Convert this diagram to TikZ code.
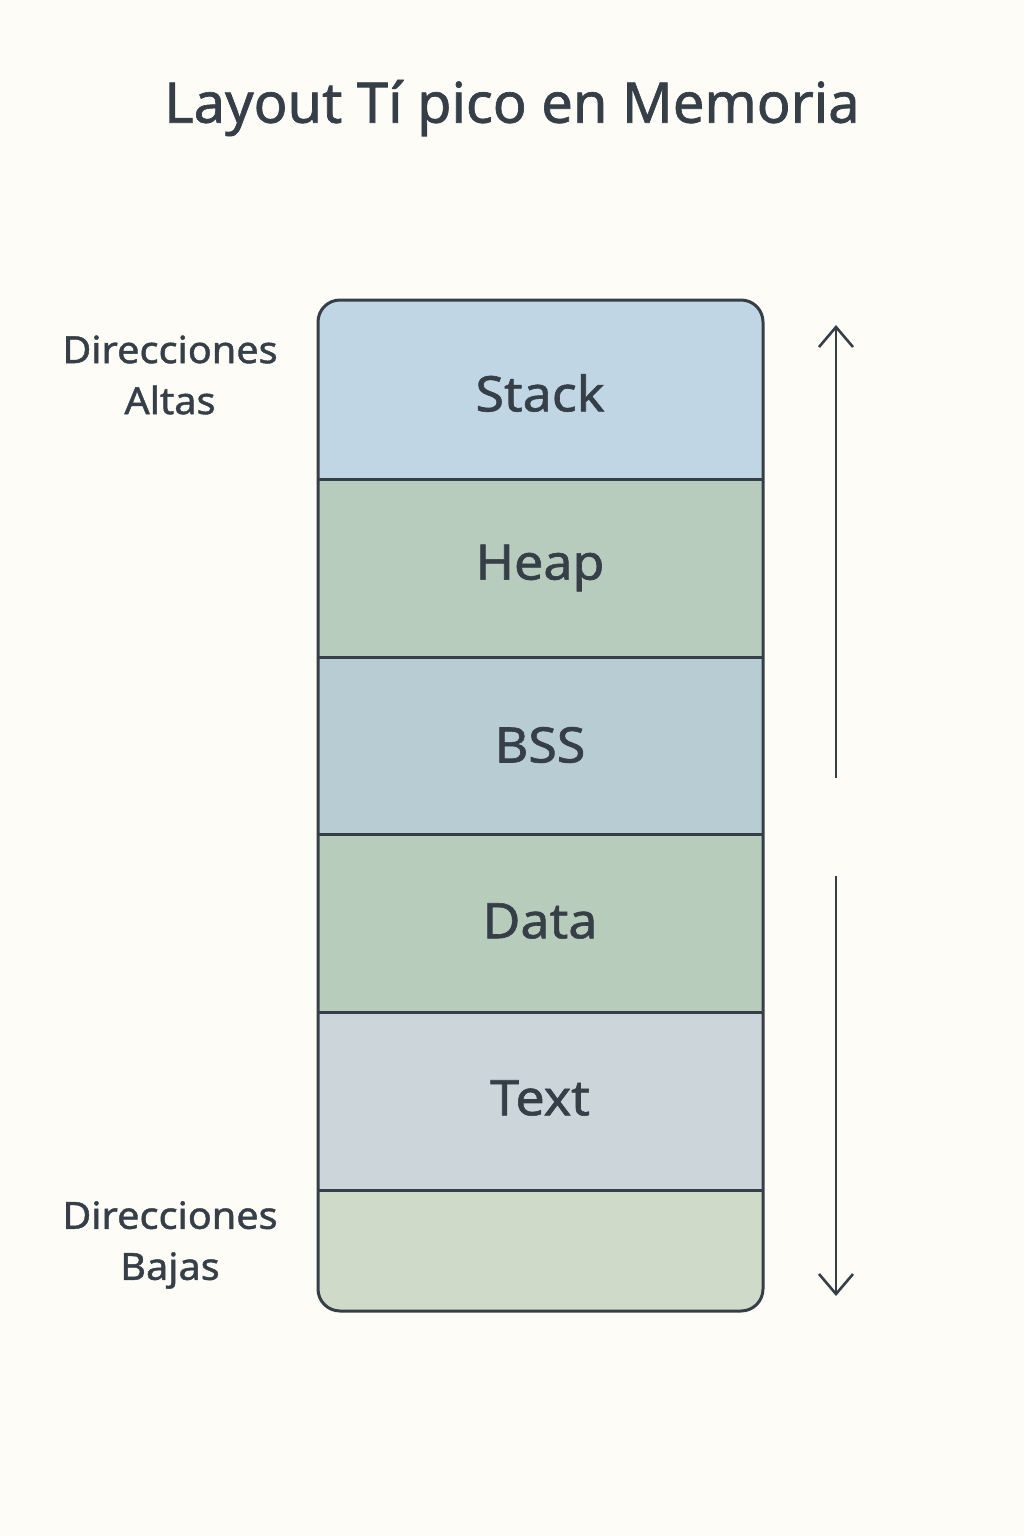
\documentclass[tikz,border=0pt]{standalone}
\usepackage{fontspec}
\setmainfont{Noto Sans}[FakeBold=1.2,FakeStretch=1.06]
\newfontfamily\titlefont{Noto Sans}[FakeBold=1.2]
\usetikzlibrary{arrows.meta}
\definecolor{bg}{HTML}{FDFCF7}
\definecolor{ink}{HTML}{363F48}
\definecolor{cstack}{HTML}{C0D6E4}
\definecolor{cheap}{HTML}{B8CCBE}
\definecolor{cbss}{HTML}{B8CCD4}
\definecolor{cdata}{HTML}{B8CCBC}
\definecolor{ctext}{HTML}{CCD5D9}
\definecolor{clow}{HTML}{CFDAC9}
\begin{document}
\begin{tikzpicture}[x=0.5pt,y=-0.5pt,
  seglabel/.style={text=ink,font=\fontsize{24.5}{28}\selectfont\bfseries},
  sidelabel/.style={text=ink,align=center,font=\fontsize{18.7}{25.5}\selectfont\bfseries},
  divider/.style={draw=ink,line width=1.5pt},
  dirarrow/.style={draw=ink,line width=1.3pt,-{Straight Barb[length=10pt,width=17pt,line width=1.3pt]}}]
\fill[bg] (0,0) rectangle (1024,1536);
\useasboundingbox (0,0) rectangle (1024,1536);
\node[text=ink,font=\titlefont\fontsize{28}{32}\selectfont\bfseries] (title) at (512,108) {Layout Tí pico en Memoria};
% fills
\begin{scope}
\clip[rounded corners=11pt] (318,300) rectangle (763,1311);
\fill[cstack] (318,300) rectangle (763,479);
\fill[cheap] (318,479) rectangle (763,657);
\fill[cbss] (318,657) rectangle (763,834);
\fill[cdata] (318,834) rectangle (763,1012);
\fill[ctext] (318,1012) rectangle (763,1190);
\fill[clow] (318,1190) rectangle (763,1311);
\end{scope}
\draw[divider] (318,479) -- (763,479);
\draw[divider] (318,657) -- (763,657);
\draw[divider] (318,834) -- (763,834);
\draw[divider] (318,1012) -- (763,1012);
\draw[divider] (318,1190) -- (763,1190);
\draw[draw=ink,line width=1.5pt,rounded corners=11pt] (318,300) rectangle (763,1311);
\node[seglabel] (stack) at (540,393) {Stack};
\node[seglabel] (heap) at (540,568) {Heap};
\node[seglabel] (bss) at (540,745) {BSS};
\node[seglabel] (data) at (540,921) {Data};
\node[seglabel] (text) at (540,1098) {Text};
\node[sidelabel] (altas) at (170,375) {Direcciones\\Altas};
\node[sidelabel] (bajas) at (170,1245) {Direcciones\\Bajas};
\coordinate (upfrom) at (836,778);
\coordinate (upto) at (836,325);
\coordinate (downfrom) at (836,876);
\coordinate (downto) at (836,1296);
\draw[dirarrow] (upfrom) -- (upto);
\draw[dirarrow] (downfrom) -- (downto);
\end{tikzpicture}
\end{document}
